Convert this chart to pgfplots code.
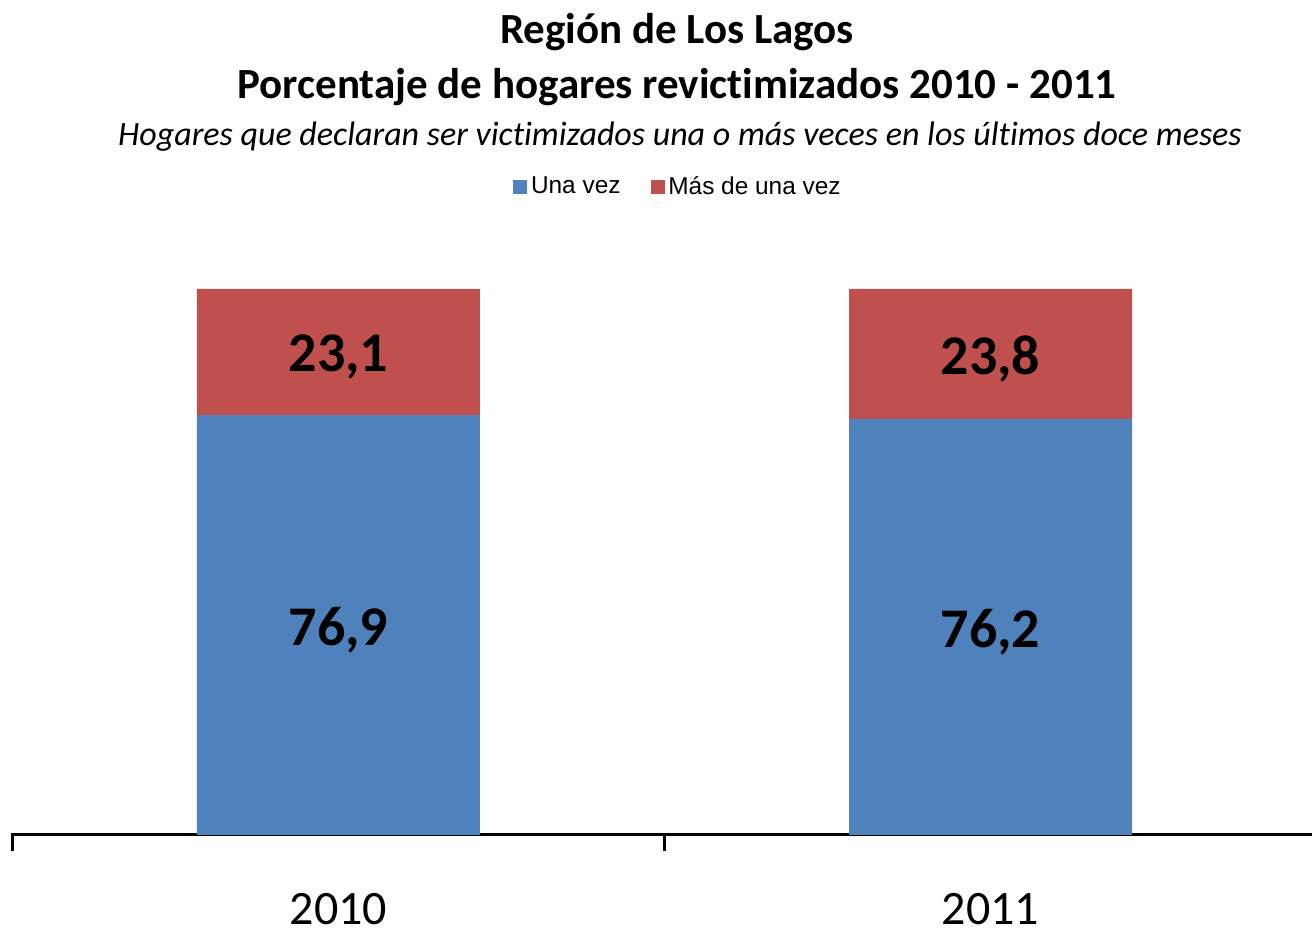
\documentclass[border=0pt]{standalone}
\usepackage{pgfplots}
\usepackage{pgfplotstable}
\pgfplotsset{compat=1.18}
\usepackage{fontspec}
\setmainfont{Carlito}[Ligatures=NoCommon]
\newfontfamily\legendfont{Liberation Sans}
\definecolor{unavez}{HTML}{4F81BD}
\definecolor{masvez}{HTML}{C0504D}

\pgfplotstableread{
x una mas
0 76.9 23.1
1 76.2 23.8
}\datos

\begin{document}
\begin{tikzpicture}
\useasboundingbox (-5.25pt,-47pt) rectangle (650.75pt,417.5pt);
\begin{axis}[
    at={(0,0)}, anchor=south west,
    scale only axis, width=650.75pt, height=273pt,
    ybar stacked, bar width=0.434, bar shift=0pt,
    xmin=-0.503, xmax=1.493, ymin=0, ymax=100,
    axis y line=none, axis x line*=bottom,
    x axis line style={-, line width=1.5pt},
    xtick={0,1}, xticklabels={2010,2011},
    tick align=outside,
    major tick length=0pt,
    extra x ticks={-0.5,0.5}, extra x tick labels={},
    extra x tick style={major tick length=8pt, major tick style={line width=1.5pt, black}},
    xticklabel style={font=\fontsize{24}{28}\selectfont, anchor=base, inner sep=0pt, yshift=-45pt},
    clip=false,
    point meta=explicit,
    nodes near coords={\pgfmathprintnumber[fixed,fixed zerofill,precision=1,use comma,assume math mode=true]{\pgfplotspointmeta}},
    every node near coord/.append style={font=\bfseries\fontsize{28}{32}\selectfont, anchor=center, yshift=-2.5pt},
    legend style={at={(0.5136,1.1868)}, anchor=center, draw=none, fill=none,
        legend columns=2, font=\legendfont\fontsize{12.2}{14}\selectfont,
        /tikz/every even column/.append style={column sep=13pt}},
]
\addlegendimage{legend image code/.code={\fill[unavez] (-1.5pt,-3.25pt) rectangle (5pt,3.25pt);}}
\addlegendentry{Una vez}
\addlegendimage{legend image code/.code={\fill[masvez] (-1.5pt,-3.25pt) rectangle (5pt,3.25pt);}}
\addlegendentry{Más de una vez}
\addplot[fill=unavez, draw=none, forget plot]
    table[x=x, y=una, meta=una] {\datos};
\addplot[fill=masvez, draw=none, forget plot]
    table[x=x, y=mas, meta=mas] {\datos};
\end{axis}
\node[anchor=base, font=\bfseries\fontsize{21.5}{26}\selectfont] at (333.25pt,395.5pt) {Región de Los Lagos};
\node[anchor=base, font=\bfseries\fontsize{21.5}{26}\selectfont] at (333.25pt,368pt) {Porcentaje de hogares revictimizados 2010 - 2011};
\node[anchor=base, font=\itshape\fontsize{17}{20}\selectfont] at (334.75pt,344.5pt) {Hogares que declaran ser victimizados una o más veces en los últimos doce meses};
\end{tikzpicture}
\end{document}
